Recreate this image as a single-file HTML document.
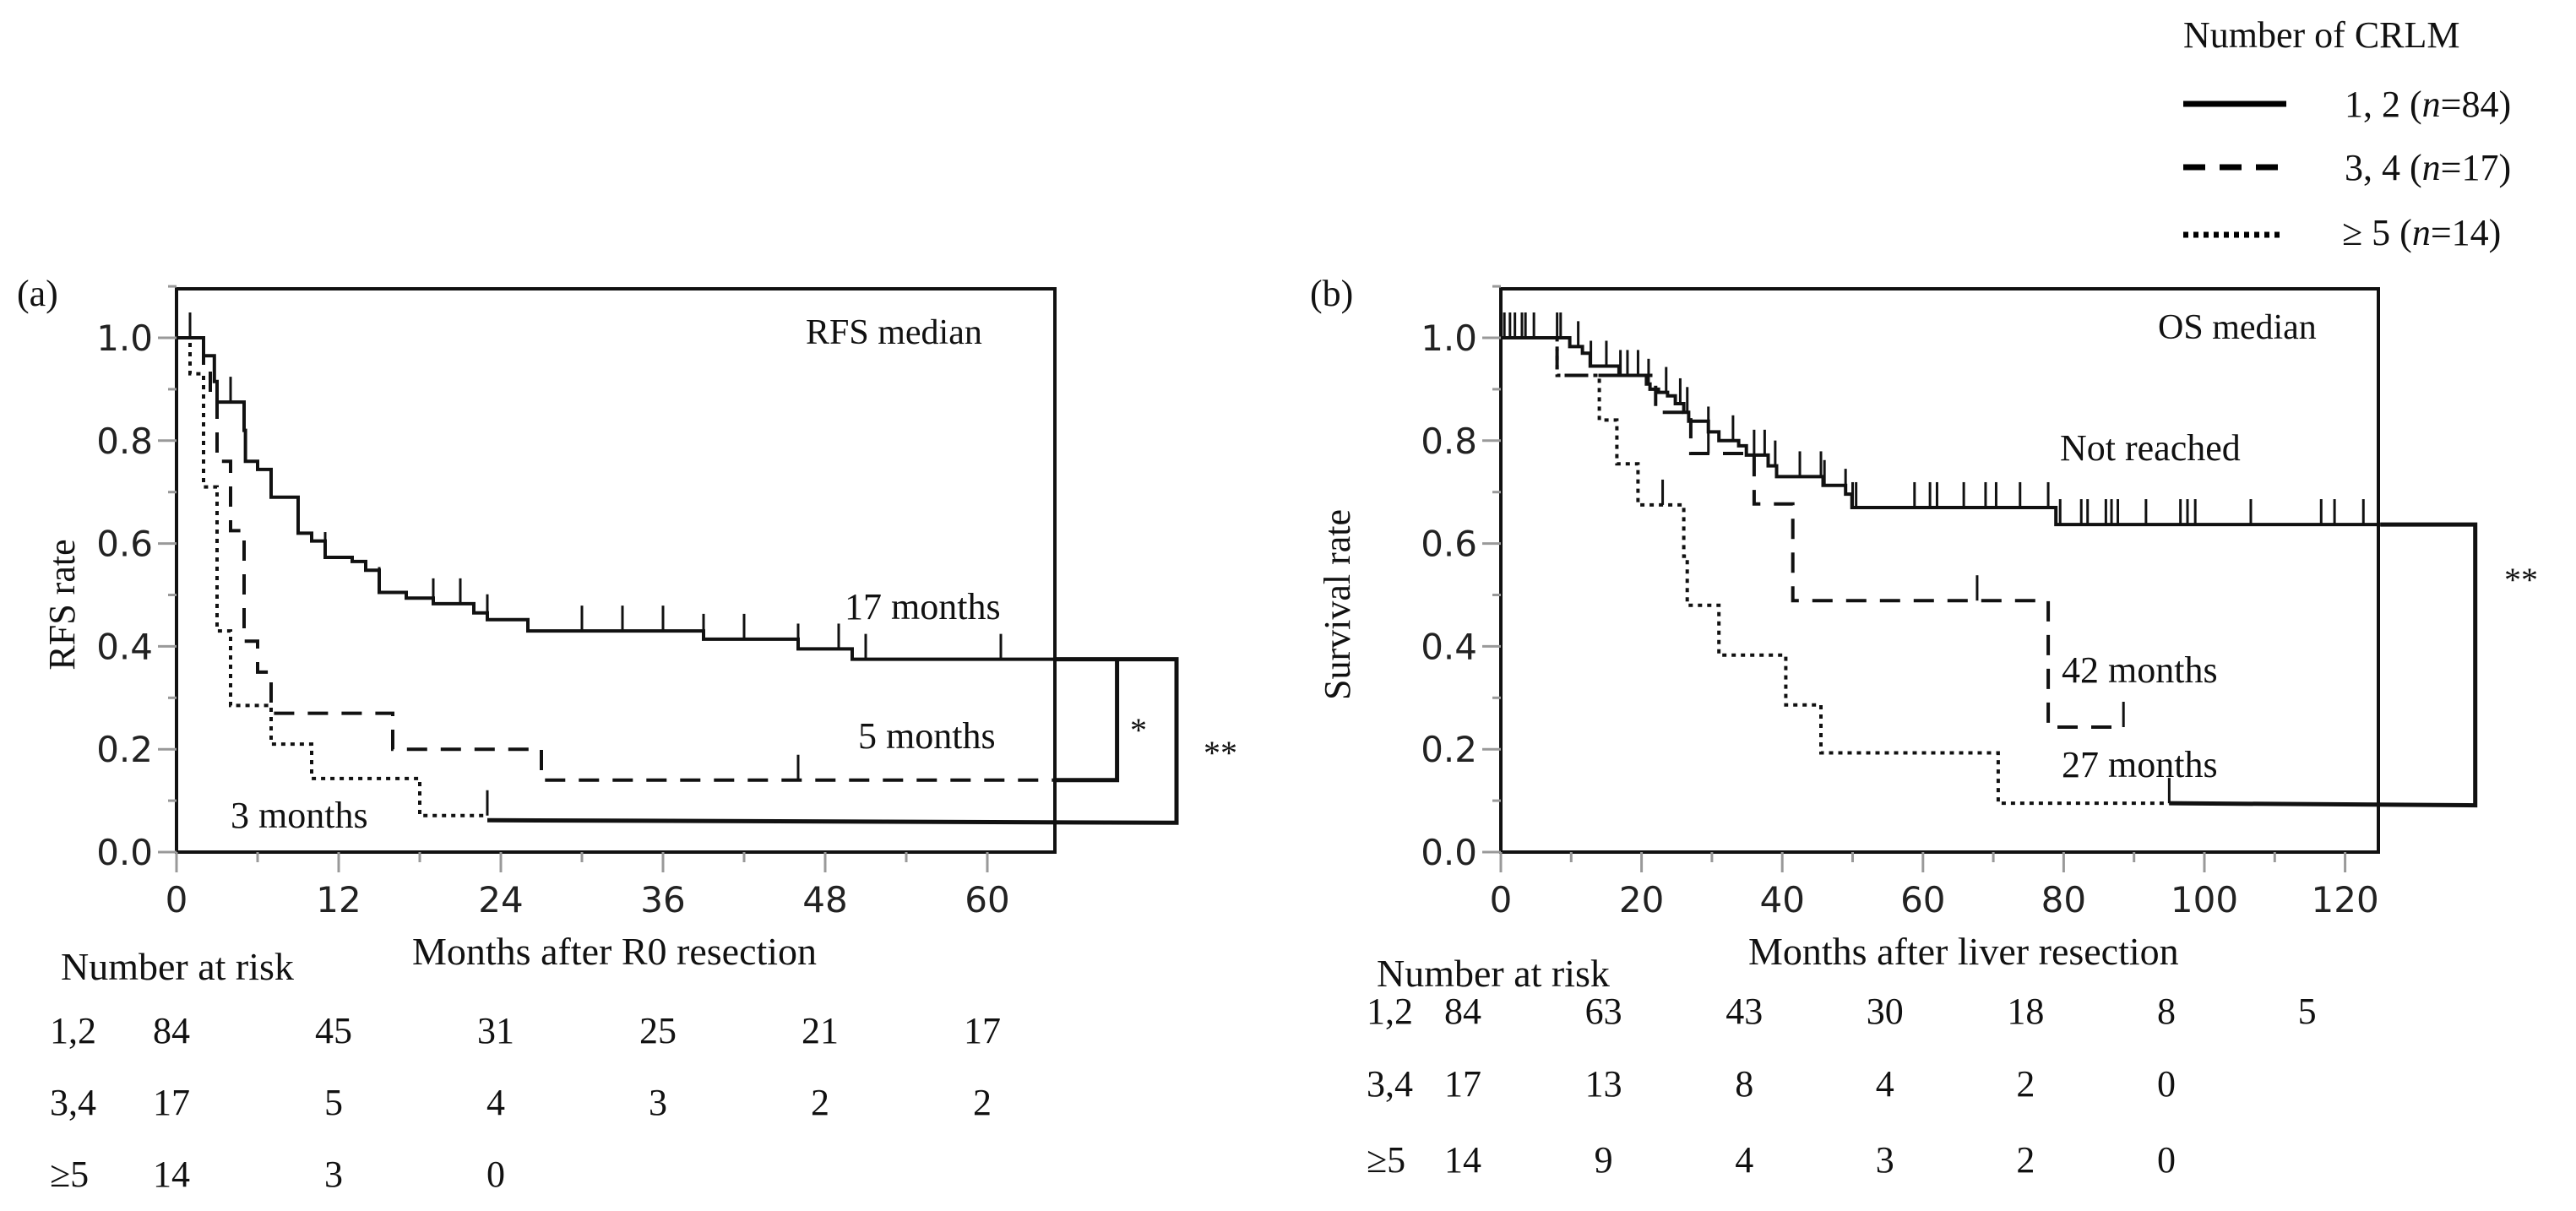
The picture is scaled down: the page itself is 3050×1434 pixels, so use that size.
<!DOCTYPE html>
<html><head><meta charset="utf-8"><style>
html,body{margin:0;padding:0;background:#fff;}
svg{display:block;}
.serif{font-family:"Liberation Serif",serif;fill:#111;}
.tick{font-family:"DejaVu Sans","Liberation Sans",sans-serif;fill:#222;font-size:42px;}
</style></head><body>
<svg id="fig" width="3050" height="1434" viewBox="0 0 3050 1434" xmlns="http://www.w3.org/2000/svg">
<g>
<text class="serif" x="2585" y="56" font-size="44">Number of CRLM</text>
<line x1="2585" y1="123" x2="2707" y2="123" stroke="#000" stroke-width="7"/>
<text class="serif" x="2776" y="138" font-size="44">1, 2 (<tspan font-style="italic">n</tspan>=84)</text>
<line x1="2585" y1="198" x2="2707" y2="198" stroke="#000" stroke-width="7" stroke-dasharray="26,17"/>
<text class="serif" x="2776" y="213" font-size="44">3, 4 (<tspan font-style="italic">n</tspan>=17)</text>
<line x1="2585" y1="278" x2="2705" y2="278" stroke="#000" stroke-width="7" stroke-dasharray="6,6"/>
<text class="serif" x="2773" y="290" font-size="44">≥ 5  (<tspan font-style="italic">n</tspan>=14)</text>
</g>
<g id="pa"></g>
<g id="pb"></g>
</svg>
<script>
// ---- Panel (a) RFS data ----
const aSolidT = [2,2.8,3,5,5.1,6,7,9,10,11,13,14,15,17,19,22,23,26,39,46,50];
const aSolidS = [0.965,0.915,0.875,0.82,0.76,0.744,0.69,0.62,0.605,0.573,0.565,0.548,0.505,0.494,0.483,0.465,0.452,0.43,0.414,0.395,0.375];
const aSolidEnd = 65;
const aSolidCens = [1,4,5,9,11,15,19,21,23,30,33,36,39,42,46,49,51,61];
const aDashT = [2,2.5,3,4,5,6,7,16,27];
const aDashS = [0.94,0.88,0.76,0.625,0.41,0.35,0.27,0.2,0.14];
const aDashEnd = 65;
const aDashCens = [46];
const aDotT = [1,2,3,4,7,10,18];
const aDotS = [0.93,0.71,0.43,0.285,0.21,0.143,0.071];
const aDotEnd = 23;
const aDotCens = [23];
const aXTicks = [0,12,24,36,48,60];
const aRisk12 = ["84","45","31","25","21","17"];
const aRisk34 = ["17","5","4","3","2","2"];
const aRisk5 = ["14","3","0"];
// ---- Panel (b) OS data ----
const bSolidT = [9.8,11.6,12.7,16.8,20.7,21.2,22.4,23.7,24.8,26,26.7,29.5,31,33.8,34.9,38,39.2,45.8,49,49.9,78.9];
const bSolidS = [0.983,0.97,0.945,0.927,0.91,0.9,0.894,0.887,0.872,0.855,0.838,0.817,0.8,0.79,0.772,0.751,0.73,0.713,0.696,0.67,0.637];
const bSolidEnd = 125;
const bSolidCens = [0.5,1.3,2,3,3.5,4.7,8,8.5,11,12.8,15,17,18,19.5,21,23.5,25.5,26.5,29.5,33,36,37.5,39,42.5,45.5,46,49,50,50.5,58.8,61,62,65.8,68.9,70.4,73.8,77.8,79.5,82.5,83.4,86,86.8,87.7,91.7,96.6,97.6,98.7,106.6,116.6,118.5,122.6];
const bDashT = [8,22,27,36,41.5,77.8];
const bDashS = [0.927,0.855,0.775,0.677,0.489,0.243];
const bDashEnd = 88.5;
const bDashCens = [29.5,67.7,88.5];
const bDotT = [8,14,16.5,19.5,26,26.5,31,40.5,45.5,70.7];
const bDotS = [0.927,0.84,0.755,0.675,0.575,0.48,0.383,0.286,0.193,0.095];
const bDotEnd = 95;
const bDotCens = [23,95];
const bXTicks = [0,20,40,60,80,100,120];
const bRisk12 = ["84","63","43","30","18","8","5"];
const bRisk34 = ["17","13","8","4","2","0"];
const bRisk5 = ["14","9","4","3","2","0"];
const yTicks = [0,0.2,0.4,0.6,0.8,1.0];
const yLabels = ["0.0","0.2","0.4","0.6","0.8","1.0"];

const NS = "http://www.w3.org/2000/svg";
function mk(parent, tag, attrs, text){
  const e = document.createElementNS(NS, tag);
  for (const k in attrs) e.setAttribute(k, attrs[k]);
  if (text !== undefined) e.textContent = text;
  parent.appendChild(e);
  return e;
}
const Y0 = 1009, YH = 609, TOP = 342;
function yScale(v){ return Y0 - YH * v; }

function stepPath(xs, T, S, end){
  let d = "M" + xs(0) + "," + yScale(1);
  for (let i = 0; i < T.length; i++){
    d += " H" + xs(T[i]).toFixed(1) + " V" + yScale(S[i]).toFixed(1);
  }
  d += " H" + xs(end).toFixed(1);
  return d;
}
function survAt(T, S, t){
  let v = 1;
  for (let i = 0; i < T.length; i++){ if (T[i] <= t) v = S[i]; }
  return v;
}

function drawPanel(g, cfg){
  const xs = m => cfg.x0 + cfg.pxm * m;
  const fr = mk(g, "rect", {x: cfg.x0, y: TOP, width: cfg.xr - cfg.x0, height: Y0 - TOP, fill: "none", stroke: "#111", "stroke-width": 4});
  
  
  for (let k = 0; k <= 11; k++){
    const v = k / 10;
    const major = k % 2 === 0 && k <= 10;
    const t = mk(g, "line", {x1: cfg.x0 - (major ? 22 : 10), x2: cfg.x0, y1: yScale(v), y2: yScale(v), stroke: "#999", "stroke-width": 3});
    
    
  }
  yTicks.forEach((v, i) => {
    const t = mk(g, "text", {x: cfg.x0 - 28, y: yScale(v) + 15, "text-anchor": "end", class: "tick"}, yLabels[i]);
    
    
  });
  const step = cfg.ticks[1] - cfg.ticks[0];
  for (let m = 0; m <= cfg.ticks[cfg.ticks.length - 1]; m += step / 2){
    const major = Math.abs(m / step - Math.round(m / step)) < 1e-6;
    const t = mk(g, "line", {x1: xs(m), x2: xs(m), y1: Y0, y2: Y0 + (major ? 24 : 12), stroke: "#999", "stroke-width": 3});
    
    
  }
  cfg.ticks.forEach(m => {
    const t = mk(g, "text", {x: xs(m), y: 1080, "text-anchor": "middle", class: "tick"}, String(m));
    
    
  });
  cfg.series.forEach(s => {
    const p = mk(g, "path", {d: stepPath(xs, s.T, s.S, s.end), fill: "none", stroke: "#111", "stroke-width": 4, "stroke-dasharray": s.dash});
    
    
    s.cens.forEach(c => {
      const v = survAt(s.T, s.S, c);
      const l = mk(g, "line", {x1: xs(c), x2: xs(c), y1: yScale(v), y2: yScale(v) - 30, stroke: "#111", "stroke-width": 3});
      
      
    });
  });
}

const pa = document.getElementById("pa");
drawPanel(pa, {x0: 209, xr: 1249, pxm: 16.0, ticks: aXTicks, series: [
  {name: "curve-1-2", T: aSolidT, S: aSolidS, end: aSolidEnd, cens: aSolidCens, dash: "none"},
  {name: "curve-3-4", T: aDashT, S: aDashS, end: aDashEnd, cens: aDashCens, dash: "24,16"},
  {name: "curve-5plus", T: aDotT, S: aDotS, end: aDotEnd, cens: aDotCens, dash: "5,6"}
]});
const pb = document.getElementById("pb");
drawPanel(pb, {x0: 1777, xr: 2816, pxm: 8.33, ticks: bXTicks, series: [
  {name: "curve-1-2", T: bSolidT, S: bSolidS, end: bSolidEnd, cens: bSolidCens, dash: "none"},
  {name: "curve-3-4", T: bDashT, S: bDashS, end: bDashEnd, cens: bDashCens, dash: "24,16"},
  {name: "curve-5plus", T: bDotT, S: bDotS, end: bDotEnd, cens: bDotCens, dash: "5,6"}
]});

function bracketLines(g, pts, name){
  const p = mk(g, "polyline", {points: pts.map(q => q.join(",")).join(" "), fill: "none", stroke: "#111", "stroke-width": 5});
  
  
}
const axs = m => 209 + 16.0 * m;
const bxs = m => 1777 + 8.33 * m;
const aTop = aSolidS[aSolidS.length - 1], aMid = aDashS[aDashS.length - 1];
bracketLines(pa, [[axs(65), yScale(aTop)], [axs(74), yScale(aTop)], [axs(74), yScale(0.057)], [axs(23), yScale(0.062)]], "bracket-double-star");
bracketLines(pa, [[axs(65), yScale(aMid)], [axs(69.6), yScale(aMid)], [axs(69.6), yScale(aTop)]], "bracket-single-star");
const bTop = bSolidS[bSolidS.length - 1], bBot = bDotS[bDotS.length - 1];
bracketLines(pb, [[bxs(125), yScale(bTop)], [bxs(138.5), yScale(bTop)], [bxs(138.5), yScale(bBot - 0.004)], [bxs(95), yScale(bBot)]], "bracket-double-star");

function riskRow(g, xpos, vals, y, label, lx, name){
  const t = mk(g, "text", {x: lx, y: y, class: "serif", "font-size": 44}, label);
  
  
  vals.forEach((v, i) => {
    const e = mk(g, "text", {x: xpos(i), y: y, class: "serif", "font-size": 44, "text-anchor": "middle"}, v);
    
    
  });
}
const aPos = i => axs(aXTicks[i]) - 6;
const bPos = i => bxs(bXTicks[i]) - 45;
riskRow(pa, aPos, aRisk12, 1235, "1,2", 59, "risk-row-1-2");
riskRow(pa, aPos, aRisk34, 1320, "3,4", 59, "risk-row-3-4");
riskRow(pa, aPos, aRisk5, 1405, "≥5", 59, "risk-row-5plus");
riskRow(pb, bPos, bRisk12, 1212, "1,2", 1618, "risk-row-1-2");
riskRow(pb, bPos, bRisk34, 1298, "3,4", 1618, "risk-row-3-4");
riskRow(pb, bPos, bRisk5, 1388, "≥5", 1618, "risk-row-5plus");

function lab(g, x, y, s, size, name, anchor, extra){
  const e = mk(g, "text", Object.assign({x: x, y: y, class: "serif", "font-size": size, "text-anchor": anchor || "start"}, extra || {}), s);
  
  
  return e;
}
lab(pa, 20, 362, "(a)", 44, "panel-a-label");
lab(pa, 954, 407, "RFS median", 42, "rfs-median-title");
lab(pa, 1000, 733, "17 months", 44, "median-1-2-label");
lab(pa, 1016, 886, "5 months", 44, "median-3-4-label");
lab(pa, 273, 980, "3 months", 44, "median-5plus-label");
lab(pa, 1338, 878, "*", 40, "significance-single");
lab(pa, 1425, 905, "**", 40, "significance-double");
lab(pa, 88, 716, "RFS rate", 44, "y-axis-title", "middle", {transform: "rotate(-90 88 716)"});
lab(pa, 488, 1142, "Months after R0 resection", 46, "x-axis-title");
lab(pa, 72, 1160, "Number at risk", 46, "risk-table-title");

lab(pb, 1551, 362, "(b)", 44, "panel-b-label");
lab(pb, 2555, 401, "OS median", 42, "os-median-title");
lab(pb, 2439, 545, "Not reached", 44, "median-1-2-label");
lab(pb, 2441, 808, "42 months", 44, "median-3-4-label");
lab(pb, 2441, 920, "27 months", 44, "median-5plus-label");
lab(pb, 2965, 700, "**", 40, "significance-double");
lab(pb, 1598, 716, "Survival rate", 44, "y-axis-title", "middle", {transform: "rotate(-90 1598 716)"});
lab(pb, 2070, 1142, "Months after liver resection", 46, "x-axis-title");
lab(pb, 1630, 1168, "Number at risk", 46, "risk-table-title");
</script>
</body></html>
